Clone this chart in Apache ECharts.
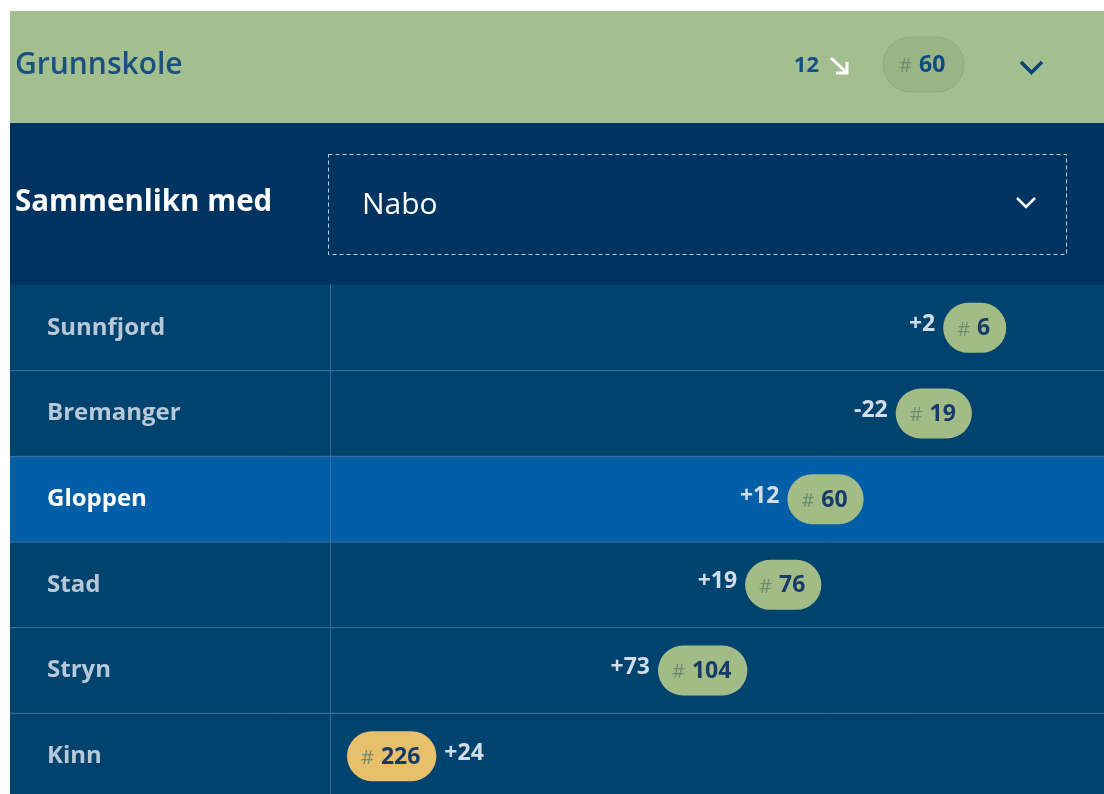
<!DOCTYPE html>
<html>
<head>
<meta charset="utf-8">
<title>Grunnskole - Sammenlikn med Nabo</title>
<script src="https://cdn.jsdelivr.net/npm/echarts@6/dist/echarts.min.js"></script>
<style>
    html, body { margin: 0; padding: 0; background: #fff; }
    #main { width: 1104px; height: 794px; }
</style>
</head>
<body>
<div id="main"></div>
<script>
// data
var municipalities = ['Sunnfjord', 'Bremanger', 'Gloppen', 'Stad', 'Stryn', 'Kinn'];
var ranks = [6, 19, 60, 76, 104, 226];
var changes = [2, -22, 12, 19, 73, 24];
var highlighted = 'Gloppen';

var sectorTitle = 'Grunnskole';
var sectorChange = 12;
var sectorRank = 60;
var compareLabel = 'Sammenlikn med';
var compareChoice = 'Nabo';

window.onload = function () {
    var myChart = echarts.init(document.getElementById('main'));
    var FONT = '"Open Sans", "Noto Sans", sans-serif';

    // text measuring for the pills
    var ctx = document.createElement('canvas').getContext('2d');
    function textWidth(text, size, weight) {
        ctx.font = weight + ' ' + size + 'px "Open Sans"';
        return ctx.measureText(text).width;
    }
    function signed(n) {
        return n > 0 ? '+' + n : String(n);
    }
    function pillColor(rank) {
        return rank <= 150 ? '#a3bc87' : '#e8c06c';
    }

    // row backgrounds + separators
    function renderRow(params, api) {
        var idx = api.value(1);
        var pt = api.coord([api.value(0), idx]);
        var h = api.size([0, 1])[1];
        var top = pt[1] - h / 2;
        var left = params.coordSys.x - 320;
        var children = [{
            type: 'rect',
            shape: { x: left, y: top, width: 1104 - left, height: h },
            style: { fill: municipalities[idx] === highlighted ? '#005fa6' : '#00436f' }
        }];
        if (idx > 0) {
            children.push({
                type: 'line',
                shape: { x1: left, y1: top, x2: 1104, y2: top },
                style: { stroke: '#3b6e9a', lineWidth: 1 }
            });
        }
        return { type: 'group', children: children };
    }

    // rank pill with change label
    function renderPill(params, api) {
        var rank = api.value(0);
        var idx = api.value(1);
        var pt = api.coord([rank, idx]);
        var plotLeft = params.coordSys.x;
        var chg = signed(changes[idx]);
        var numW = textWidth(String(rank), 23, 'bold');
        var hashW = textWidth('#', 20, 'normal');
        var w = 14 + hashW + 7 + numW + 16;
        var h = 50;
        var chgW = textWidth(chg, 23, 'bold');
        var x0 = pt[0] - w;
        var chgX, chgAlign;
        if (x0 - 9 - chgW < plotLeft + 10) {
            // not enough room: pill to the left, label after it
            x0 = plotLeft + 17;
            chgX = x0 + w + 8;
            chgAlign = 'left';
        } else {
            chgX = x0 - 8;
            chgAlign = 'right';
        }
        var y = pt[1];
        return {
            type: 'group',
            children: [
                {
                    type: 'rect',
                    shape: { x: x0, y: y - h / 2, width: w, height: h, r: h / 2 },
                    style: { fill: pillColor(rank) }
                },
                {
                    type: 'text', x: x0 + 14, y: y + 2,
                    style: { text: '#', fill: '#6d8c6f', fontSize: 20, fontFamily: FONT, align: 'left', verticalAlign: 'middle' }
                },
                {
                    type: 'text', x: x0 + 14 + hashW + 7, y: y + 1,
                    style: { text: String(rank), fill: '#163b68', fontSize: 23, fontWeight: 'bold', fontFamily: FONT, align: 'left', verticalAlign: 'middle' }
                },
                {
                    type: 'text', x: chgX, y: y - 3,
                    style: { text: chg, fill: '#d3dde8', fontSize: 23, fontWeight: 'bold', fontFamily: FONT, align: chgAlign, verticalAlign: 'middle' }
                }
            ]
        };
    }

    var rowData = ranks.map(function (r, i) { return [r, i]; });

    var option = {
        backgroundColor: '#ffffff',
        animation: false,
        textStyle: { fontFamily: FONT },
        grid: {
            left: 330,
            right: 0,
            top: 285,
            height: 514,
            outerBoundsMode: 'none'
        },
        xAxis: {
            type: 'value',
            inverse: true,
            min: -31,
            max: 262,
            show: false
        },
        yAxis: {
            type: 'category',
            inverse: true,
            position: 'left',
            data: municipalities,
            z: 3,
            axisLine: { show: true, onZero: false, lineStyle: { color: '#3b6e9a', width: 1 } },
            axisTick: { show: false },
            splitLine: { show: false },
            axisLabel: {
                margin: 283,
                align: 'left',
                formatter: function (v) {
                    return v === highlighted ? '{hi|' + v + '}' : '{lo|' + v + '}';
                },
                rich: {
                    hi: { color: '#ffffff', fontSize: 24, fontWeight: 'bold', fontFamily: FONT },
                    lo: { color: '#b8c8d8', fontSize: 24, fontWeight: 'bold', fontFamily: FONT }
                }
            }
        },
        graphic: [
            // header band
            { type: 'rect', shape: { x: 10, y: 11, width: 1094, height: 112 }, style: { fill: '#a4bf8f' } },
            {
                type: 'text', x: 15, y: 65,
                style: { text: sectorTitle, fill: '#1a4f80', fontSize: 30, fontWeight: 600, fontFamily: FONT, verticalAlign: 'middle' }
            },
            {
                type: 'text', x: 819, y: 66,
                style: { text: String(sectorChange), fill: '#134f85', fontSize: 22, fontWeight: 'bold', fontFamily: FONT, align: 'right', verticalAlign: 'middle' }
            },
            { type: 'line', shape: { x1: 831, y1: 58, x2: 846, y2: 72 }, style: { stroke: '#ffffff', lineWidth: 3 } },
            { type: 'polyline', shape: { points: [[836, 73], [847, 73], [847, 62]] }, style: { stroke: '#ffffff', lineWidth: 3, fill: null } },
            {
                type: 'rect', shape: { x: 883, y: 37, width: 81, height: 55, r: 27.5 },
                style: { fill: '#99b585', stroke: '#8fac7c', lineWidth: 1 }
            },
            {
                type: 'text', x: 899, y: 66,
                style: { text: '#', fill: '#6d8c6f', fontSize: 20, fontFamily: FONT, verticalAlign: 'middle' }
            },
            {
                type: 'text', x: 919, y: 65,
                style: { text: String(sectorRank), fill: '#0f4a80', fontSize: 23, fontWeight: 'bold', fontFamily: FONT, verticalAlign: 'middle' }
            },
            { type: 'polyline', shape: { points: [[1021, 62], [1031.5, 72.5], [1042, 62]] }, style: { stroke: '#0d4174', lineWidth: 3.5, fill: null } },

            // compare selector band
            { type: 'rect', shape: { x: 10, y: 123, width: 1094, height: 162 }, style: { fill: '#003460' } },
            {
                type: 'text', x: 15, y: 203,
                style: { text: compareLabel, fill: '#ffffff', fontSize: 29.5, fontWeight: 'bold', fontFamily: FONT, verticalAlign: 'middle' }
            },
            {
                type: 'rect', shape: { x: 328.5, y: 154.5, width: 738, height: 100 },
                style: { fill: null, stroke: 'rgba(255,255,255,0.75)', lineWidth: 1, lineDash: [4, 3] }
            },
            {
                type: 'text', x: 362, y: 205,
                style: { text: compareChoice, fill: '#ffffff', fontSize: 30, fontFamily: FONT, verticalAlign: 'middle' }
            },
            { type: 'polyline', shape: { points: [[1017, 198], [1026, 207], [1035, 198]] }, style: { stroke: '#ffffff', lineWidth: 2.5, fill: null } }
        ],
        series: [
            {
                name: 'rows',
                type: 'custom',
                z: 1,
                clip: false,
                silent: true,
                renderItem: renderRow,
                data: rowData
            },
            {
                name: 'rank',
                type: 'custom',
                z: 5,
                clip: false,
                renderItem: renderPill,
                data: rowData
            }
        ]
    };

    myChart.setOption(option);
};
</script>
</body>
</html>
